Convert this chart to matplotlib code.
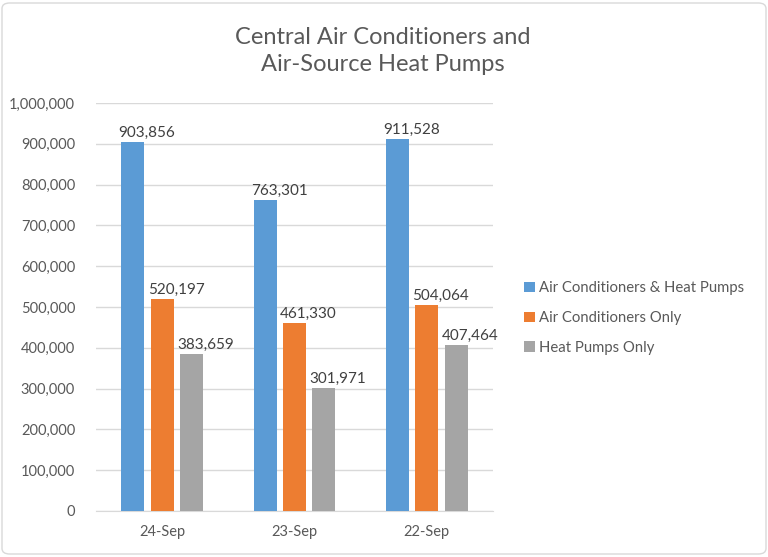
import matplotlib
matplotlib.use("Agg")
import matplotlib.pyplot as plt
from matplotlib.patches import FancyBboxPatch, Patch
import numpy as np

categories = ["24-Sep", "23-Sep", "22-Sep"]
series_names = ["Air Conditioners & Heat Pumps", "Air Conditioners Only", "Heat Pumps Only"]
ac_hp = [903856, 763301, 911528]
ac_only = [520197, 461330, 504064]
hp_only = [383659, 301971, 407464]
colors = ["#5B9BD5", "#ED7D31", "#A5A5A5"]

plt.rcParams['font.family'] = ['Lato', 'DejaVu Sans']
text_color = "#595959"

fig = plt.figure(figsize=(7.68, 5.57), dpi=100)
ax = fig.add_axes([96/768, 46/557, 397/768, 408/557])

x = np.arange(len(categories))
width = 0.173
offset = 0.222
for i, (vals, c) in enumerate(zip([ac_hp, ac_only, hp_only], colors)):
    pos = x + (i - 1) * offset
    ax.bar(pos, vals, width=width, color=c, zorder=3)
    for p, v in zip(pos, vals):
        ax.annotate(f"{v:,}", (p - width / 2, v), xytext=(-2, 1.5), textcoords="offset points",
                    ha="left", va="bottom", fontsize=11, color="#404040")

ax.set_xlim(-0.5, 2.5)
ax.set_ylim(0, 1000000)
ax.set_yticks(np.arange(0, 1000001, 100000))
ax.set_yticklabels([f"{int(t):,}" for t in np.arange(0, 1000001, 100000)])
ax.set_xticks(x)
ax.set_xticklabels(categories)
ax.yaxis.grid(True, color="#D9D9D9", linewidth=1, zorder=0)
ax.set_axisbelow(True)
for s in ["top", "right", "left"]:
    ax.spines[s].set_visible(False)
ax.spines["bottom"].set_color("#D9D9D9")
ax.tick_params(axis="both", length=0, labelsize=10.5, labelcolor=text_color)
ax.tick_params(axis="y", pad=15)
ax.tick_params(axis="x", pad=10)

fig.text(383/768, 1 - 51/557, "Central Air Conditioners and\nAir-Source Heat Pumps",
         ha="center", va="center", fontsize=17, color=text_color, linespacing=1.3)

handles = [Patch(facecolor=c, edgecolor="none") for c in colors]
fig.legend(handles, series_names, loc="center left", bbox_to_anchor=(511/768, 1 - 318/557),
           frameon=False, fontsize=10.7, labelcolor=text_color, handlelength=0.7,
           handleheight=0.7, handletextpad=0.3, labelspacing=1.05)

border = FancyBboxPatch((2/768, 3/557), 764/768, 551/557, boxstyle="round,pad=0,rounding_size=0.01",
                        transform=fig.transFigure, fill=False, edgecolor="#D9D9D9", linewidth=1)
fig.patches.append(border)

fig.savefig("out.png", dpi=100)
